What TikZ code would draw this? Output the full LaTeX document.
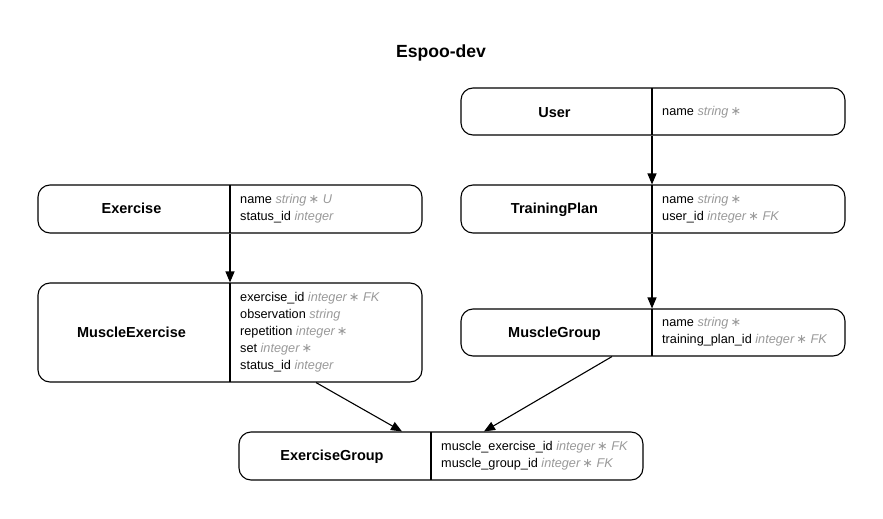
\documentclass[tikz,border=0pt]{standalone}
\usepackage{fontspec}
\setmainfont{Liberation Sans}
\newfontfamily\dvfont{DejaVu Sans}
\usetikzlibrary{arrows.meta}
\definecolor{typegray}{HTML}{999999}
\newcommand\reqmark{\,{\dvfont\char"2217}}
\newcommand\ty[1]{{\color{typegray}\itshape #1}}
\tikzset{
  box/.style={draw=black, line width=1.1pt, rounded corners=12pt, rectangle, inner sep=0pt},
  tname/.style={font=\fontsize{14.5}{16}\selectfont\bfseries, anchor=base, inner sep=0pt},
  field/.style={font=\fontsize{12.7}{14}\selectfont, anchor=base west, inner sep=0pt},
  divider/.style={line width=1.1pt},
  arr/.style={line width=1.1pt, -{Triangle[length=11pt,width=9pt]}},
}
\begin{document}
\begin{tikzpicture}[x=1pt,y=-1pt]
\useasboundingbox (0,0) rectangle (883,519);
\node[font=\fontsize{17.6}{20}\selectfont\bfseries, anchor=base, inner sep=0pt] (title) at (441,58) {Espoo-dev};

% User
\node[box, minimum width=384pt, minimum height=47pt] (user) at (653,111.5) {};
\draw[divider] (652,88) -- (652,135);
\node[tname] (userN) at (554.5,117) {User};
\node[field] (userF1) at (662,115) {name \ty{string\reqmark}};

% TrainingPlan
\node[box, minimum width=384pt, minimum height=48pt] (tp) at (653,209) {};
\draw[divider] (652,185) -- (652,233);
\node[tname] (tpN) at (554.5,213) {TrainingPlan};
\node[field] (tpF1) at (662,203) {name \ty{string\reqmark}};
\node[field] (tpF2) at (662,220) {user\_id \ty{integer\reqmark{} FK}};

% MuscleGroup
\node[box, minimum width=384pt, minimum height=47pt] (mg) at (653,332.5) {};
\draw[divider] (652,309) -- (652,356);
\node[tname] (mgN) at (554.5,337) {MuscleGroup};
\node[field] (mgF1) at (662,326.5) {name \ty{string\reqmark}};
\node[field] (mgF2) at (662,343.5) {training\_plan\_id \ty{integer\reqmark{} FK}};

% Exercise
\node[box, minimum width=384pt, minimum height=48pt] (ex) at (230,209) {};
\draw[divider] (230,185) -- (230,233);
\node[tname] (exN) at (131.5,213) {Exercise};
\node[field] (exF1) at (240,203) {name \ty{string\reqmark{} U}};
\node[field] (exF2) at (240,220) {status\_id \ty{integer}};

% MuscleExercise
\node[box, minimum width=384pt, minimum height=99pt] (me) at (230,332.5) {};
\draw[divider] (230,283) -- (230,382);
\node[tname] (meN) at (131.5,337) {MuscleExercise};
\node[field] (meF1) at (240,301.5) {exercise\_id \ty{integer\reqmark{} FK}};
\node[field] (meF2) at (240,318.6) {observation \ty{string}};
\node[field] (meF3) at (240,335.7) {repetition \ty{integer\reqmark}};
\node[field] (meF4) at (240,352.8) {set \ty{integer\reqmark}};
\node[field] (meF5) at (240,369.9) {status\_id \ty{integer}};

% ExerciseGroup
\node[box, minimum width=404pt, minimum height=48pt] (eg) at (441,456) {};
\draw[divider] (431,432) -- (431,480);
\node[tname] (egN) at (332,460) {ExerciseGroup};
\node[field] (egF1) at (441,450.5) {muscle\_exercise\_id \ty{integer\reqmark{} FK}};
\node[field] (egF2) at (441,467.3) {muscle\_group\_id \ty{integer\reqmark{} FK}};

% connectors
\draw[arr] ([xshift=-1pt]user.south) -- ([xshift=-1pt]tp.north);
\draw[arr] ([xshift=-1pt]tp.south) -- ([xshift=-1pt]mg.north);
\draw[arr] (ex.south) -- (me.north);
\draw[arr] ([xshift=86pt]me.south) -- ([xshift=-39pt]eg.north);
\draw[arr] ([xshift=-41pt]mg.south) -- ([xshift=43pt]eg.north);
\end{tikzpicture}
\end{document}
